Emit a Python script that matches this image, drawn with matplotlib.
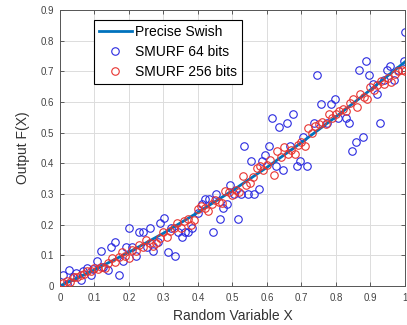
import numpy as np
import matplotlib.pyplot as plt

plt.rcParams['font.family'] = ['Liberation Sans', 'DejaVu Sans']

# Precise Swish curve
swish_x = [0.0, 0.1, 0.2, 0.3, 0.4, 0.5, 0.6, 0.7, 0.8, 0.9, 1.0]
swish_y = [0.0, 0.0525, 0.110, 0.172, 0.240, 0.311, 0.387, 0.468, 0.552, 0.640, 0.731]

# SMURF 64 bits
blue_x = [0.010, 0.020, 0.027, 0.039, 0.048, 0.060, 0.068, 0.078, 0.089, 0.097,
          0.109, 0.119, 0.126, 0.140, 0.149, 0.160, 0.170, 0.182, 0.192, 0.200,
          0.209, 0.221, 0.229, 0.240, 0.252, 0.260, 0.271, 0.283, 0.291, 0.302,
          0.312, 0.322, 0.333, 0.341, 0.353, 0.362, 0.372, 0.382, 0.401, 0.413,
          0.421, 0.432, 0.444, 0.453, 0.463, 0.473, 0.484, 0.494, 0.504, 0.516,
          0.525, 0.535, 0.545, 0.554, 0.564, 0.576, 0.585, 0.595, 0.605, 0.614,
          0.626, 0.636, 0.647, 0.657, 0.667, 0.676, 0.686, 0.696, 0.705, 0.717,
          0.736, 0.746, 0.756, 0.775, 0.787, 0.797, 0.806, 0.828, 0.837, 0.847,
          0.857, 0.868, 0.878, 0.888, 0.897, 0.907, 0.919, 0.928, 0.938, 0.948,
          0.957, 0.967, 0.979, 0.998, 1.000]
blue_y = [0.035, 0.007, 0.052, 0.030, 0.041, 0.020, 0.050, 0.058, 0.035, 0.054,
          0.081, 0.115, 0.063, 0.052, 0.128, 0.145, 0.035, 0.083, 0.128, 0.190,
          0.128, 0.098, 0.175, 0.175, 0.128, 0.190, 0.115, 0.143, 0.206, 0.221,
          0.112, 0.190, 0.098, 0.175, 0.159, 0.175, 0.175, 0.190, 0.237, 0.269,
          0.284, 0.284, 0.175, 0.300, 0.220, 0.253, 0.269, 0.331, 0.300, 0.220,
          0.300, 0.456, 0.300, 0.408, 0.300, 0.315, 0.408, 0.426, 0.456, 0.547,
          0.393, 0.517, 0.378, 0.532, 0.456, 0.562, 0.393, 0.408, 0.486, 0.393,
          0.532, 0.688, 0.595, 0.532, 0.595, 0.610, 0.547, 0.547, 0.532, 0.441,
          0.471, 0.704, 0.486, 0.734, 0.688, 0.658, 0.625, 0.532, 0.673, 0.704,
          0.719, 0.673, 0.704, 0.734, 0.828]

# SMURF 256 bits
red_x = [0.01, 0.02, 0.03, 0.04, 0.05, 0.06, 0.07, 0.08, 0.09, 0.10,
         0.11, 0.12, 0.13, 0.14, 0.15, 0.16, 0.17, 0.18, 0.19, 0.20,
         0.21, 0.22, 0.23, 0.24, 0.25, 0.26, 0.27, 0.28, 0.29, 0.30,
         0.31, 0.32, 0.33, 0.34, 0.35, 0.36, 0.37, 0.38, 0.39, 0.40,
         0.41, 0.42, 0.43, 0.44, 0.45, 0.46, 0.47, 0.48, 0.49, 0.50,
         0.51, 0.52, 0.53, 0.54, 0.55, 0.56, 0.57, 0.58, 0.59, 0.60,
         0.61, 0.62, 0.63, 0.64, 0.65, 0.66, 0.67, 0.68, 0.69, 0.70,
         0.71, 0.72, 0.73, 0.74, 0.75, 0.76, 0.77, 0.78, 0.79, 0.80,
         0.81, 0.82, 0.83, 0.84, 0.85, 0.86, 0.87, 0.88, 0.89, 0.90,
         0.91, 0.92, 0.93, 0.94, 0.95, 0.96, 0.97, 0.98, 0.99, 1.00]
red_y = [0.010, 0.015, 0.012, 0.030, 0.028, 0.035, 0.040, 0.048, 0.050, 0.060,
         0.055, 0.062, 0.060, 0.075, 0.090, 0.078, 0.095, 0.110, 0.098, 0.092,
         0.118, 0.115, 0.135, 0.128, 0.150, 0.140, 0.130, 0.140, 0.155, 0.175,
         0.160, 0.180, 0.188, 0.205, 0.190, 0.212, 0.218, 0.200, 0.215, 0.250,
         0.262, 0.255, 0.245, 0.268, 0.280, 0.275, 0.272, 0.310, 0.305, 0.298,
         0.312, 0.305, 0.360, 0.328, 0.335, 0.355, 0.385, 0.390, 0.378, 0.395,
         0.410, 0.362, 0.440, 0.420, 0.452, 0.432, 0.445, 0.432, 0.460, 0.470,
         0.458, 0.515, 0.498, 0.522, 0.530, 0.535, 0.528, 0.560, 0.548, 0.560,
         0.572, 0.578, 0.570, 0.598, 0.610, 0.585, 0.625, 0.618, 0.610, 0.650,
         0.640, 0.655, 0.668, 0.660, 0.680, 0.665, 0.690, 0.700, 0.705, 0.700]

fig = plt.figure(figsize=(4.07, 3.25), dpi=100)
ax = fig.add_axes([0.147, 0.12, 0.848, 0.849])

ax.plot(blue_x, blue_y, 'o', mfc='none', mec='#2a2ae0', ms=5.4, mew=0.8,
        label='SMURF 64 bits', zorder=2)
ax.plot(swish_x, swish_y, '-', color='#0072BD', lw=2, label='Precise Swish', zorder=3)
ax.plot(red_x, red_y, 'o', mfc='none', mec='#e8332f', ms=5.4, mew=0.8,
        label='SMURF 256 bits', zorder=4)

ax.set_xlim(0, 1)
ax.set_ylim(0, 0.9)
ax.set_xticks(np.arange(0, 1.01, 0.1))
ax.set_yticks(np.arange(0, 0.91, 0.1))
ax.set_xticklabels(['0', '0.1', '0.2', '0.3', '0.4', '0.5', '0.6', '0.7', '0.8', '0.9', '1'])
ax.set_yticklabels(['0', '0.1', '0.2', '0.3', '0.4', '0.5', '0.6', '0.7', '0.8', '0.9'])
ax.grid(True, color='#dcdcdc', lw=0.7)
ax.set_axisbelow(True)
ax.tick_params(direction='in', length=3, width=0.6, labelsize=7, colors='#444444',
               top=True, right=True)
ax.tick_params(axis='x', pad=5)
ax.tick_params(axis='y', pad=4)
for s in ax.spines.values():
    s.set_color('#555555')
    s.set_linewidth(0.7)

ax.set_xlabel('Random Variable X', fontsize=10, color='#333333', labelpad=4)
ax.set_ylabel('Output F(X)', fontsize=10, color='#333333', labelpad=8)

handles, labels = ax.get_legend_handles_labels()
order = [1, 0, 2]
leg = ax.legend([handles[i] for i in order], [labels[i] for i in order],
                loc='upper left', bbox_to_anchor=(0.098, 0.963), fontsize=10,
                fancybox=False, framealpha=1, edgecolor='black',
                borderpad=0.35, labelspacing=0.42, handlelength=2.4,
                handletextpad=0.25, borderaxespad=0)
leg.get_frame().set_linewidth(0.8)

fig.savefig('out.png', dpi=100)
